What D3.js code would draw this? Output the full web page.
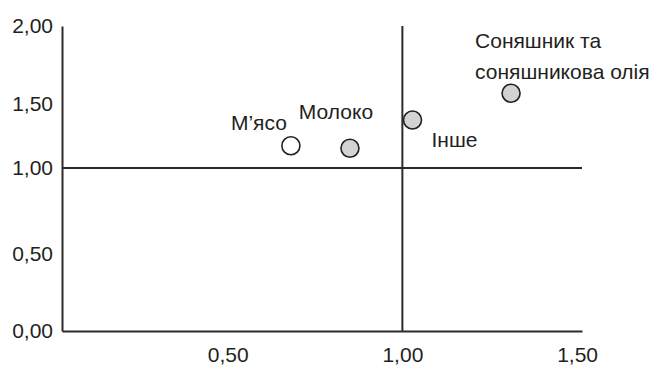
<!DOCTYPE html>
<html>
<head>
<meta charset="utf-8">
<script src="https://cdn.jsdelivr.net/npm/d3@7"></script>
<style>
  html, body { margin: 0; padding: 0; background: #fff; }
  svg { display: block; }
  text { font-family: Arial, "Liberation Sans", sans-serif; fill: #231f20; }
</style>
</head>
<body>
<svg id="chart" width="654" height="365"></svg>
<script>
// ---- data ----
const categories = ["М’ясо", "Молоко", "Інше", "Соняшник та соняшникова олія"];
const xValues = [0.681, 0.850, 1.029, 1.311];
const yValues = [1.174, 1.154, 1.375, 1.569];
const highlighted = [false, true, true, true];

const xTickValues = [0.5, 1.0, 1.5];
const xTickLabels = ["0,50", "1,00", "1,50"];
const yTickValues = [0, 0.5, 1.0, 1.5, 2.0];
const yTickLabels = ["0,00", "0,50", "1,00", "1,50", "2,00"];

// label placement (layout only)
const labelLayout = [
  { anchor: "end",    dx: -4,  dy: -16, lines: ["М’ясо"] },
  { anchor: "middle", dx: -14, dy: -29, lines: ["Молоко"] },
  { anchor: "start",  dx: 19,  dy: 27,  lines: ["Інше"] },
  { anchor: "start",  dx: -36, dy: -45, lines: ["Соняшник та", "соняшникова олія"] }
];

// ---- scales ----
const svg = d3.select("#chart");
const x = d3.scaleLinear().domain([0.026, 1.514]).range([62, 582]);
const y = d3.scaleLinear().domain(yTickValues).range([331, 254, 168, 104, 26]);

const lineColor = "#2b2b2b";
const fontSize = 21;

// ---- axes ----
const yAxis = d3.axisLeft(y)
  .tickValues(yTickValues)
  .tickSize(0).tickSizeOuter(0).tickPadding(9)
  .tickFormat((d, i) => yTickLabels[i]);
const gy = svg.append("g").attr("transform", `translate(${x.range()[0]},0)`).call(yAxis);

const xAxis = d3.axisBottom(x)
  .tickValues(xTickValues)
  .tickSize(0).tickSizeOuter(0).tickPadding(16)
  .tickFormat((d, i) => xTickLabels[i]);
const gx = svg.append("g").attr("transform", `translate(0,${y(0)})`).call(xAxis);

[gx, gy].forEach(g => {
  g.select(".domain").attr("stroke", lineColor).attr("stroke-width", 2);
  g.selectAll("text")
    .style("font-family", "Arial, 'Liberation Sans', sans-serif")
    .style("font-size", fontSize + "px")
    .attr("fill", "#231f20");
});

// ---- quadrant lines ----
svg.append("line")
  .attr("x1", x.range()[0]).attr("x2", x.range()[1])
  .attr("y1", y(1)).attr("y2", y(1))
  .attr("stroke", lineColor).attr("stroke-width", 2);
svg.append("line")
  .attr("x1", x(1)).attr("x2", x(1))
  .attr("y1", y(0)).attr("y2", y(2))
  .attr("stroke", lineColor).attr("stroke-width", 2);

// ---- points ----
const pts = categories.map((c, i) => ({ c, x: xValues[i], y: yValues[i], h: highlighted[i], l: labelLayout[i] }));

svg.append("g").selectAll("circle").data(pts).join("circle")
  .attr("cx", d => x(d.x))
  .attr("cy", d => y(d.y))
  .attr("r", 9)
  .attr("fill", d => d.h ? "#d3d3d3" : "#ffffff")
  .attr("stroke", "#231f20")
  .attr("stroke-width", 1.6);

const lbl = svg.append("g").selectAll("text").data(pts).join("text")
  .attr("x", d => x(d.x) + d.l.dx)
  .attr("y", d => y(d.y) + d.l.dy)
  .attr("text-anchor", d => d.l.anchor)
  .style("font-size", fontSize + "px");
lbl.selectAll("tspan").data(d => d.l.lines.map(t => ({ t, x: x(d.x) + d.l.dx }))).join("tspan")
  .attr("x", d => d.x)
  .attr("dy", (d, i) => i === 0 ? 0 : 31)
  .text(d => d.t);
</script>
</body>
</html>
